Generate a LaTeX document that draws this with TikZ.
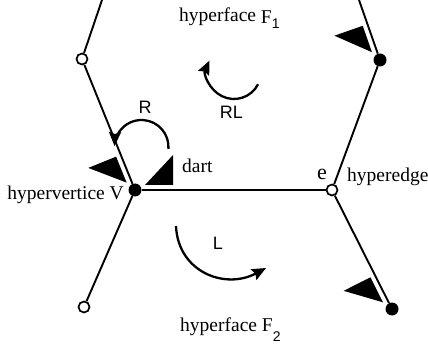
\documentclass[tikz,border=0pt]{standalone}
\usepackage{fontspec}
\setmainfont{Liberation Serif}
\setsansfont{Liberation Sans}
\usetikzlibrary{calc,arrows.meta}
\newcommand{\dartmark}[2]{\fill ($(#1)!10pt!(#2)!5pt!90:(#2)$) -- ($(#1)!38pt!(#2)!5pt!90:(#2)$) -- ($(#1)!38pt!(#2)!35pt!90:(#2)$) -- cycle;}
\begin{document}
\begin{tikzpicture}[x=1pt,y=-1pt,
  edge/.style={line width=1.9pt},
  opendot/.style={circle,draw,fill=white,line width=1.7pt,minimum size=11pt,inner sep=0pt},
  fulldot/.style={circle,fill=black,minimum size=13pt,inner sep=0pt},
  rot/.style={line width=2.3pt,-{Stealth[length=14pt,width=12pt,inset=2pt]}},
  serif/.style={font=\fontsize{19.5}{20}\selectfont,inner sep=0pt},
  sanslab/.style={font=\sffamily\fontsize{18}{18}\selectfont,inner sep=0pt}]
\useasboundingbox (0,0) rectangle (428,347);
% vertices
\coordinate (ttl) at (102,0);
\coordinate (ttr) at (359,0);
\node[opendot] (tl) at (82,59) {};
\node[fulldot] (v) at (135,190) {};
\node[opendot] (e) at (332,190) {};
\node[fulldot] (tr) at (380,60) {};
\node[opendot] (bl) at (84,307) {};
\node[fulldot] (br) at (392,309) {};
% edges
\draw[edge] (ttl) -- (tl);
\draw[edge] (tl) -- (v);
\draw[edge] (v) -- (e);
\draw[edge] (v) -- (bl);
\draw[edge] (e) -- (tr);
\draw[edge] (tr) -- (ttr);
\draw[edge] (e) -- (br);
% darts
\dartmark{v}{tl}
\dartmark{v}{e}
\dartmark{tr}{ttr}
\dartmark{br}{e}
% rotations
\draw[rot] ($(141.5,147)+(4:27)$) arc[start angle=4, end angle=-178, radius=27];
\draw[rot] ($(234,72)+(27:27)$) arc[start angle=27, end angle=205, radius=27];
\draw[rot] (176,226) .. controls (178,272) and (225,290) .. (266,268);
% labels
\node[serif,anchor=base west] (f1) at (179,22) {hyperface \raisebox{-2pt}{F}\raisebox{-7pt}{\sffamily\fontsize{14}{14}\selectfont 1}};
\node[serif,anchor=base west] (f2) at (180,331) {hyperface F\raisebox{-10pt}{\sffamily\fontsize{14}{14}\selectfont 2}};
\node[serif,anchor=base west] (dl) at (182,173) {dart};
\node[font=\fontsize{22}{22}\selectfont,inner sep=0pt,anchor=base west] (el) at (317,180) {e};
\node[serif,anchor=base west] (hel) at (347,182) {hyperedge};
\node[serif,anchor=base east] (hvl) at (124,200) {hypervertice V};
\node[sanslab] (rl) at (145,107) {R};
\node[sanslab] (rll) at (231.5,112.5) {RL};
\node[sanslab] (ll) at (218,243) {L};
\end{tikzpicture}
\end{document}
